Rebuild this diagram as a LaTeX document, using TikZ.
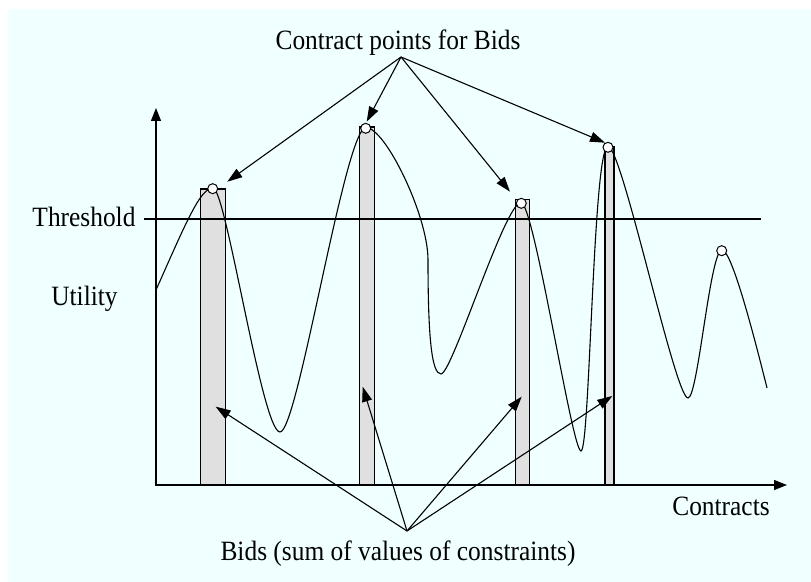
\documentclass[tikz,border=0pt]{standalone}
\usepackage{fontspec}
\setmainfont{Liberation Serif}
\usetikzlibrary{arrows.meta}
\definecolor{bgcyan}{HTML}{F0FFFF}
\definecolor{barfill}{HTML}{E0E0E0}
\begin{document}
\begin{tikzpicture}[x=1bp,y=-1bp,line width=1.2bp,
  lbl/.style={font=\fontsize{25.5}{28}\selectfont, inner sep=0pt, anchor=base},
  barbox/.style={draw=black, fill=barfill, line width=1.2bp},
  dot/.style={circle, draw=black, fill=white, minimum size=10bp, inner sep=0pt, line width=1bp},
  pointer/.style={-{Triangle[length=15bp,width=10bp]}, line width=1.1bp},
  axisline/.style={-{Triangle[length=13bp,width=10bp]}, line width=1.2bp}]
\useasboundingbox (0,0) rectangle (811,582);
\fill[white] (0,0) rectangle (811,582);
\fill[bgcyan] (8,9) rectangle (811,582);
% bars
\draw[barbox] (200.7,485) rectangle (225.3,189);
\draw[barbox] (359.3,485) rectangle (374.3,127);
\draw[barbox] (515.5,485) rectangle (529.2,199.3);
\draw[barbox] (605,485) rectangle (614,146.7);
% threshold line
\coordinate (thL) at (144,219);
\coordinate (thR) at (761,219);
\draw (thL) -- (thR);
% curve
\draw[line width=1.1bp] (156,290) .. controls (185,225) and (200,188) .. (213,188)
 .. controls (226,188) and (262,432) .. (280,432)
 .. controls (298,432) and (345,127.5) .. (366,127.5)
 .. controls (385,127.5) and (428,215) .. (428,260)
 .. controls (428,340) and (432,374) .. (441,374)
 .. controls (452,374) and (505,202.5) .. (521,202.5)
 .. controls (534,202.5) and (572,451) .. (581,451)
 .. controls (590,451) and (593,146.5) .. (608,146.5)
 .. controls (622,146.5) and (675,398) .. (688,398)
 .. controls (698,398) and (710,250) .. (722,250)
 .. controls (732,250) and (755,340) .. (767,388);
% axes
\coordinate (org) at (156,485);
\coordinate (ytip) at (156,108);
\coordinate (xtip) at (787,485);
\draw[axisline] (156,486) -- (ytip);
\draw[axisline] (org) -- (xtip);
% contract point circles
\node[dot] (c1) at (212.7,188.7) {};
\node[dot] (c2) at (365.7,128.3) {};
\node[dot] (c3) at (521.3,203.3) {};
\node[dot] (c4) at (608,147.3) {};
\node[dot] (c5) at (721.7,250.7) {};
% labels
\node[lbl] (top) at (398,50) {\scalebox{1}[1.1]{Contract points for Bids}};
\node[lbl] (thr) at (84,227) {\scalebox{1}[1.1]{Threshold}};
\node[lbl] (util) at (84.5,305) {\scalebox{1}[1.1]{Utility}};
\node[lbl] (contr) at (721,515) {\scalebox{1}[1.1]{Contracts}};
\node[lbl] (bids) at (398,560) {\scalebox{1}[1.1]{Bids (sum of values of constraints)}};
% pointer sources and targets
\coordinate (tsrc) at (401,57);
\coordinate (bsrc) at (407,531);
\coordinate (t1) at (227.3,181.7);
\coordinate (t2) at (366.7,121.7);
\coordinate (t3) at (510,191.7);
\coordinate (t4) at (605,142.7);
\coordinate (b1) at (215.7,406.7);
\coordinate (b2) at (362.7,386.7);
\coordinate (b3) at (521.7,396.7);
\coordinate (b4) at (612.3,396);
\foreach \t in {t1,t2,t3,t4} \draw[pointer] (tsrc) -- (\t);
\foreach \b in {b1,b2,b3,b4} \draw[pointer] (bsrc) -- (\b);
\end{tikzpicture}
\end{document}
